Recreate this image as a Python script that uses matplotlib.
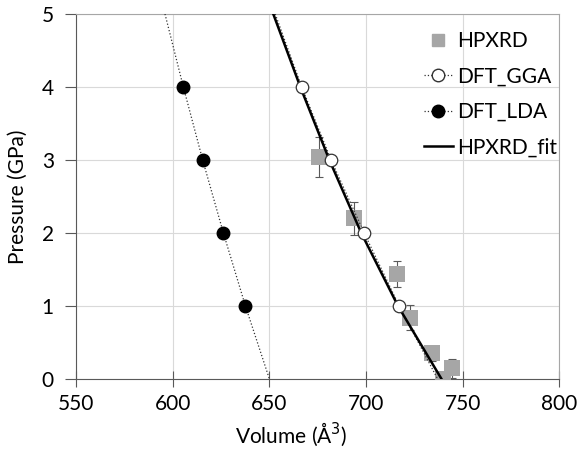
import matplotlib.pyplot as plt
from matplotlib.lines import Line2D

# HPXRD measurements (volume, pressure, pressure error)
hpxrd_V = [675.9, 693.5, 716.0, 722.8, 734.2, 740.0, 744.5]
hpxrd_P = [3.04, 2.20, 1.44, 0.84, 0.35, 0.00, 0.15]
hpxrd_err = [0.27, 0.23, 0.18, 0.17, 0.10, 0.05, 0.13]

# DFT points
gga_V = [666.7, 681.9, 699.0, 717.1]
gga_P = [4, 3, 2, 1]
lda_V = [605.5, 615.5, 626.2, 637.6]
lda_P = [4, 3, 2, 1]

# trend lines
gga_line_V = [653.0, 666.7, 681.9, 699.0, 717.1, 737.0]
lda_line_V = [596.0, 605.5, 615.5, 626.2, 637.6, 650.0]
fit_V = [652.0, 666.0, 681.0, 697.5, 716.5, 739.0]
line_P = [5, 4, 3, 2, 1, 0]

plt.rcParams['font.family'] = ['Lato', 'DejaVu Sans']
FS = 15

fig = plt.figure(figsize=(5.79, 4.58), dpi=100)
ax = fig.add_axes([0.1313, 0.1725, 0.835, 0.797])

ax.errorbar(hpxrd_V, hpxrd_P, yerr=hpxrd_err, fmt='none', ecolor='#595959',
            elinewidth=0.8, capsize=3, capthick=0.8, zorder=2)
sq, = ax.plot(hpxrd_V, hpxrd_P, 's', ms=11, mfc='#a6a6a6', mec='#a6a6a6',
              mew=0, zorder=3)

ax.plot(lda_line_V, line_P, ':', color='#333333', lw=0.9, zorder=3)
ax.plot(gga_line_V, line_P, ':', color='#333333', lw=0.9, zorder=3)
fitl, = ax.plot(fit_V, line_P, '-', color='black', lw=1.8, zorder=4)
ax.plot(gga_V, gga_P, 'o', ms=9, mfc='white', mec='#333333', mew=0.9, zorder=5)
ax.plot(lda_V, lda_P, 'o', ms=9, mfc='black', mec='black', zorder=5)

ax.set_xlim(550, 800)
ax.set_ylim(0, 5)
ax.set_xticks([550, 600, 650, 700, 750, 800])
ax.set_yticks([0, 1, 2, 3, 4, 5])
ax.grid(True, color='#d9d9d9', lw=0.8)
ax.set_axisbelow(True)

for s in ['top', 'right']:
    ax.spines[s].set_color('#a6a6a6')
for s in ['left', 'bottom']:
    ax.spines[s].set_color('#595959')
ax.tick_params(axis='x', direction='inout', length=12, color='#595959',
               labelsize=FS, pad=5)
ax.tick_params(axis='y', direction='out', length=8, color='#595959',
               labelsize=FS, pad=8)

ax.set_xlabel('Volume (Å$^3$)', fontsize=FS)
ax.xaxis.set_label_coords(0.445, -0.115)
ax.set_ylabel('Pressure (GPa)', fontsize=FS, labelpad=10)

h_sq = Line2D([], [], marker='s', ms=9, mfc='#a6a6a6', mec='#a6a6a6', ls='none')
h_gga = Line2D([], [], marker='o', ms=9, mfc='white', mec='#333333',
               ls=':', color='#333333', lw=0.9)
h_lda = Line2D([], [], marker='o', ms=9, mfc='black', mec='black',
               ls=':', color='#333333', lw=0.9)
ax.legend([h_sq, h_gga, h_lda, fitl], ['HPXRD', 'DFT_GGA', 'DFT_LDA', 'HPXRD_fit'],
          loc='upper left', bbox_to_anchor=(0.68, 1.005), frameon=False,
          fontsize=FS, handlelength=1.4, handletextpad=0.2, labelspacing=0.75)

fig.savefig('out.png')
